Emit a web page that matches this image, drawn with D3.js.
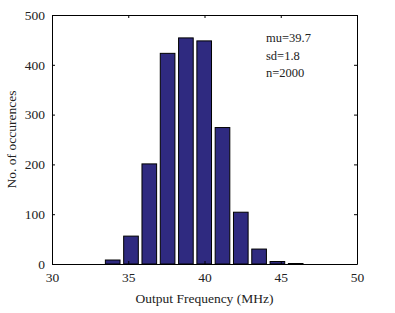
<!DOCTYPE html>
<html>
<head>
<meta charset="utf-8">
<script src="https://cdn.jsdelivr.net/npm/d3@7"></script>
<style>
  body { margin: 0; background: #fff; }
  svg text { font-family: "Liberation Serif", "DejaVu Serif", serif; }
</style>
</head>
<body>
<div id="chart"></div>
<script>
// histogram bin centres (MHz) and counts
const binCenters = [33.98, 35.18, 36.38, 37.58, 38.78, 39.98, 41.18, 42.38, 43.58, 44.78, 45.98]
const counts = [8, 56, 201, 423, 454, 448, 274, 104, 30, 5, 1]
const binWidth = 1.2
const xTicks = [30, 35, 40, 45, 50]
const yTicks = [0, 100, 200, 300, 400, 500]
const stats = ["mu=39.7", "sd=1.8", "n=2000"]

const size = [395, 313]
const margin = {top: 15, right: 38, bottom: 49, left: 52}

const x = d3.scaleLinear([30, 50], [margin.left, size[0] - margin.right])
const y = d3.scaleLinear([0, 500], [size[1] - margin.bottom, margin.top])

const svg = d3.select("#chart").append("svg")
  .attr("width", size[0])
  .attr("height", size[1])

const bw = (x(binWidth) - x(0)) * 0.8

svg.append("g")
  .attr("fill", "#2f2a80")
  .attr("stroke", "#000")
  .attr("stroke-width", 1)
  .selectAll("rect")
  .data(binCenters.map((c, i) => ({c, n: counts[i]})))
  .join("rect")
    .attr("x", d => x(d.c) - bw / 2)
    .attr("y", d => y(d.n))
    .attr("width", bw)
    .attr("height", d => y(0) - y(d.n))

const tick = 3
const axisStyle = g => g
  .call(g => g.select(".domain").attr("stroke", "#000"))
  .call(g => g.selectAll(".tick line").attr("stroke", "#000"))
  .call(g => g.selectAll("text").attr("font-size", 13.5).attr("fill", "#222"))
  .attr("font-family", null)

svg.append("g")
  .attr("transform", `translate(0,${y(0)})`)
  .call(d3.axisBottom(x).tickValues(xTicks).tickSizeInner(-tick).tickSizeOuter(0).tickPadding(8))
  .call(axisStyle)

svg.append("g")
  .attr("transform", `translate(0,${y(500)})`)
  .call(d3.axisTop(x).tickValues(xTicks).tickSizeInner(-tick).tickSizeOuter(0).tickFormat(""))
  .call(axisStyle)

svg.append("g")
  .attr("transform", `translate(${x(30)},0)`)
  .call(d3.axisLeft(y).tickValues(yTicks).tickSizeInner(-tick).tickSizeOuter(0).tickPadding(7))
  .call(axisStyle)

svg.append("g")
  .attr("transform", `translate(${x(50)},0)`)
  .call(d3.axisRight(y).tickValues(yTicks).tickSizeInner(-tick).tickSizeOuter(0).tickFormat(""))
  .call(axisStyle)

svg.append("text")
  .attr("x", (x(30) + x(50)) / 2)
  .attr("y", 303)
  .attr("text-anchor", "middle")
  .attr("font-size", 13.5)
  .attr("fill", "#222")
  .text("Output Frequency (MHz)")

svg.append("text")
  .attr("transform", `translate(16,${(y(0) + y(500)) / 2}) rotate(-90)`)
  .attr("text-anchor", "middle")
  .attr("font-size", 13.5)
  .attr("fill", "#222")
  .text("No. of occurences")

svg.append("g")
  .selectAll("text")
  .data(stats)
  .join("text")
    .attr("x", 266)
    .attr("y", (d, i) => 42 + i * 17.5)
    .attr("font-size", 12.5)
    .attr("fill", "#222")
    .text(d => d)
</script>
</body>
</html>
